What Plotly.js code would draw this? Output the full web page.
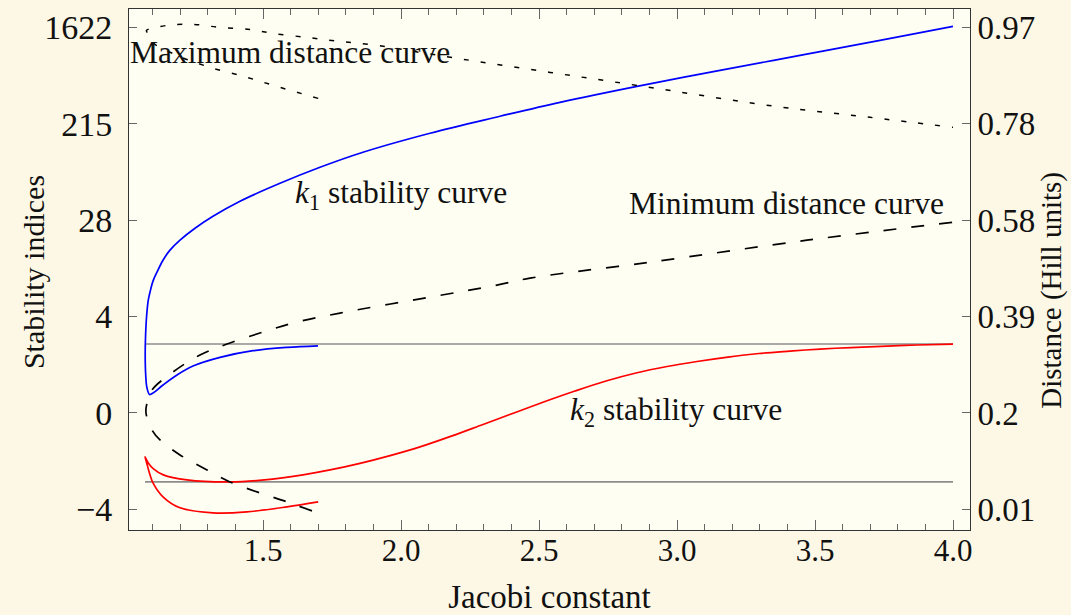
<!DOCTYPE html>
<html>
<head>
<meta charset="utf-8">
<script src="https://cdn.plot.ly/plotly-3.0.1.min.js"></script>
<style>html,body{margin:0;padding:0;background:#fdf8e5;}</style>
</head>
<body>
<div id="chart" style="width:1071px;height:615px;"></div>
<script>
// Jacobi constant (x) and scaled stability index (left axis units) / distance in Hill units (right axis)
const k1X = [1.6993, 1.587, 1.4638, 1.3442, 1.2464, 1.1884, 1.1377, 1.1014, 1.0888,
  1.0797, 1.075, 1.0732, 1.0746, 1.0786, 1.0844, 1.0924, 1.1014, 1.1159, 1.1377, 1.163,
  1.1993, 1.2536, 1.3188, 1.4167, 1.5616, 1.7065, 1.8623, 2.1051, 2.3587, 2.5761, 2.8551,
  3.1558, 3.4457, 3.7355, 4.0];
const k1Y = [0.697, 0.681, 0.646, 0.577, 0.487, 0.394, 0.290, 0.207, 0.192,
  0.259, 0.394, 0.601, 0.808, 1.016, 1.171, 1.275, 1.368, 1.461, 1.585, 1.689,
  1.793, 1.917, 2.041, 2.197, 2.383, 2.549, 2.705, 2.902, 3.078, 3.223, 3.389,
  3.554, 3.710, 3.865, 4.010];

const k2X = [1.7, 1.587, 1.442, 1.3188, 1.1993, 1.1377, 1.1014, 1.0906, 1.0786, 1.0725,
  1.0844, 1.1033, 1.1388, 1.2246, 1.3804, 1.5254, 1.6449, 1.7428, 1.8514, 1.9638, 2.0688,
  2.1848, 2.2971, 2.4094, 2.5217, 2.6304, 2.7428, 2.8514, 2.9638, 3.0725, 3.1848, 3.2971,
  3.4094, 3.5181, 3.6304, 3.7391, 3.8696, 4.0];
const k2Y = [-0.922, -0.974, -1.026, -1.036, -0.984, -0.870, -0.725, -0.642, -0.518, -0.456,
  -0.518, -0.580, -0.642, -0.694, -0.715, -0.689, -0.642, -0.591, -0.523, -0.440, -0.352,
  -0.238, -0.119, 0.0, 0.119, 0.228, 0.332, 0.415, 0.482, 0.534, 0.580, 0.617,
  0.642, 0.663, 0.679, 0.691, 0.705, 0.715];

const minDistX = [1.6775, 1.587, 1.4891, 1.3804, 1.2971, 1.1993, 1.1268, 1.0978, 1.0761, 1.0797,
  1.0978, 1.1739, 1.2717, 1.3696, 1.5, 1.6232, 1.779, 2.1051, 2.3478, 2.4674, 2.9022, 3.471, 4.0];
const minDist = [0.0070, 0.0249, 0.0428, 0.0647, 0.0886, 0.1184, 0.1483, 0.1682, 0.2020, 0.2219,
  0.2478, 0.2836, 0.3174, 0.3393, 0.3632, 0.3831, 0.4010, 0.4328, 0.4567, 0.4706, 0.5024, 0.5462, 0.5820];

const maxDistX = [1.7, 1.5616, 1.442, 1.308, 1.1884, 1.0906, 1.0797, 1.0779,
  1.1522, 1.2464, 1.3442, 1.4529, 1.5362, 1.6594, 1.779, 1.913, 2.0688, 2.2283, 2.5399,
  2.8551, 3.3551, 3.6993, 4.0];
const maxDist = [0.8287, 0.8506, 0.8705, 0.8904, 0.9143, 0.9441, 0.9600, 0.9640,
  0.9740, 0.9760, 0.9700, 0.9660, 0.9580, 0.9501, 0.9421, 0.9341, 0.9202, 0.9063, 0.8804,
  0.8545, 0.8128, 0.7909, 0.7710];

const boundX = [1.0725, 4.0];
const upperBound = [0.715, 0.715];
const lowerBound = [-0.715, -0.715];

const xTicks = [1.5, 2.0, 2.5, 3.0, 3.5, 4.0];
const xTickText = ['1.5', '2.0', '2.5', '3.0', '3.5', '4.0'];
const yTicks = [-1, 0, 1, 2, 3, 4];
const yTickText = ['\u22124', '0', '4', '28', '215', '1622'];
const distTicks = [0.01, 0.202, 0.394, 0.586, 0.778, 0.97];
const distTickText = ['0.01', '0.2', '0.39', '0.58', '0.78', '0.97'];

// plotting range (left-axis units) and its linear match on the distance axis
const yRange = [-1.214, 4.191];
const dOf = u => 0.01 + (u + 1) * 0.192;

const font = 'Liberation Serif, Times New Roman, serif';
const ink = '#111';
const gray = '#8c8c8c';

const traces = [
  {x: boundX, y: upperBound, mode: 'lines', line: {color: gray, width: 1.6}, hoverinfo: 'skip'},
  {x: boundX, y: lowerBound, mode: 'lines', line: {color: gray, width: 1.6}, hoverinfo: 'skip'},
  {x: maxDistX, y: maxDist, yaxis: 'y2', mode: 'lines', line: {color: '#000', width: 1.5, dash: '5px,12px', shape: 'spline', smoothing: 1}},
  {x: minDistX, y: minDist, yaxis: 'y2', mode: 'lines', line: {color: '#000', width: 1.7, dash: '13px,15px', shape: 'spline', smoothing: 1}},
  {x: k1X, y: k1Y, mode: 'lines', line: {color: '#0000ff', width: 1.7, shape: 'spline', smoothing: 1}},
  {x: k2X, y: k2Y, mode: 'lines', line: {color: '#ff0000', width: 1.7, shape: 'spline', smoothing: 1}}
];

const axisCommon = {
  showgrid: false, zeroline: false, showline: true, linecolor: '#333', linewidth: 1,
  ticks: 'inside', tickcolor: '#666', tickwidth: 1
};

const annFont = {family: font, size: 31.5, color: ink};

const layout = {
  width: 1071, height: 615,
  paper_bgcolor: '#fdf8e5', plot_bgcolor: '#fffef2',
  margin: {l: 129, r: 101, t: 9, b: 85},
  showlegend: false,
  font: {family: font, size: 30, color: ink},
  xaxis: Object.assign({}, axisCommon, {
    range: [1.0145, 4.0616], tickvals: xTicks, ticktext: xTickText, ticklen: 10,
    mirror: 'ticks', ticklabelstandoff: -7,
    tickfont: {family: font, size: 31, color: ink},
    minor: {tick0: 1.0, dtick: 0.1, ticks: 'inside', ticklen: 6, tickcolor: '#666'},
    title: {text: 'Jacobi constant', font: {family: font, size: 33, color: ink}, standoff: 26}
  }),
  yaxis: Object.assign({}, axisCommon, {
    range: yRange, tickvals: yTicks, ticktext: yTickText, ticklen: 8, ticklabelstandoff: 9,
    tickfont: {family: font, size: 34, color: ink}
  }),
  yaxis2: Object.assign({}, axisCommon, {
    overlaying: 'y', side: 'right', range: [dOf(yRange[0]), dOf(yRange[1])],
    tickvals: distTicks, ticktext: distTickText, ticklen: 8, ticklabelstandoff: 0,
    tickfont: {family: font, size: 33, color: ink}
  }),
  annotations: [
    {text: 'Stability indices', xref: 'paper', yref: 'paper', x: -0.1142, y: 0.495, textangle: -90,
      xanchor: 'center', yanchor: 'middle', showarrow: false, font: {family: font, size: 30, color: ink}},
    {text: 'Distance (Hill units)', xref: 'paper', yref: 'paper', x: 1.0975, y: 0.461, textangle: -90,
      xanchor: 'center', yanchor: 'middle', showarrow: false, font: {family: font, size: 29, color: ink}},
    {text: 'Maximum distance curve', x: 1.598, y: 3.741, xref: 'x', yref: 'y', showarrow: false, font: annFont},
    {text: '<i>k</i><sub>1</sub> stability curve', x: 2.0, y: 2.259, xref: 'x', yref: 'y', showarrow: false, font: annFont},
    {text: 'Minimum distance curve', x: 3.395, y: 2.176, xref: 'x', yref: 'y', showarrow: false, font: annFont},
    {text: '<i>k</i><sub>2</sub> stability curve', x: 2.996, y: 0.01, xref: 'x', yref: 'y', showarrow: false, font: annFont}
  ]
};

Plotly.newPlot('chart', traces, layout, {displayModeBar: false, staticPlot: true});
</script>
</body>
</html>
